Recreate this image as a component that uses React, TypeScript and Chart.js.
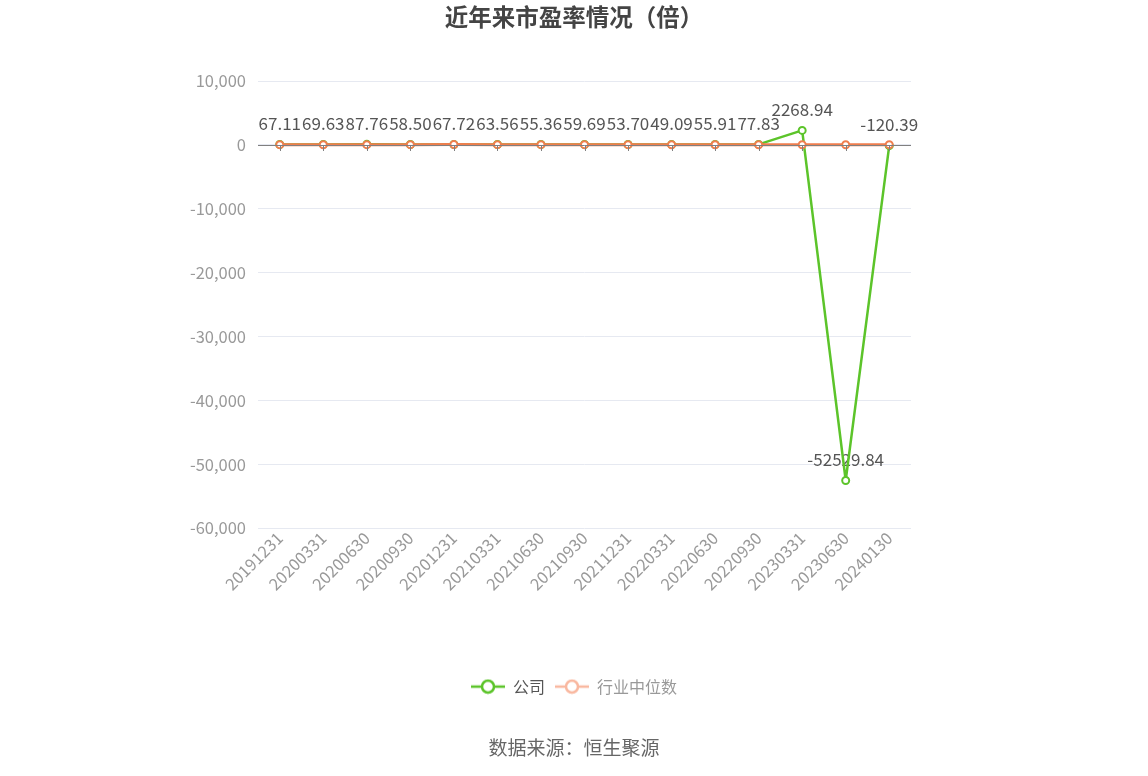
import { useEffect, useRef } from "react";
import { Chart, registerables } from "chart.js";

Chart.register(...registerables);

const periods = [
  "20191231", "20200331", "20200630", "20200930", "20201231",
  "20210331", "20210630", "20210930", "20211231", "20220331",
  "20220630", "20220930", "20230331", "20230630", "20240130",
];
const companyPE = [
  67.11, 69.63, 87.76, 58.5, 67.72, 63.56, 55.36, 59.69, 53.7, 49.09,
  55.91, 77.83, 2268.94, -52529.84, -120.39,
];
// industry median is not labelled in the picture: small values near the zero line
const industryPE = [
  32.5, 30.1, 35.6, 38.2, 41.0, 39.5, 36.8, 33.4, 34.1, 28.6,
  27.9, 26.3, 28.4, 27.5, 25.8,
];
const yTicks = [10000, 0, -10000, -20000, -30000, -40000, -50000, -60000];

const GREEN = "#5cc42a";
const ORANGE = "#f07e4e";
const FONT = "'Noto Sans CJK SC', 'Noto Sans', sans-serif";

function legendIcon(color: string) {
  const c = document.createElement("canvas");
  c.width = 34;
  c.height = 16;
  const ctx = c.getContext("2d")!;
  ctx.strokeStyle = color;
  ctx.lineWidth = 2.5;
  ctx.beginPath();
  ctx.moveTo(0, 8);
  ctx.lineTo(34, 8);
  ctx.stroke();
  ctx.beginPath();
  ctx.arc(17, 8, 6, 0, Math.PI * 2);
  ctx.fillStyle = "#fff";
  ctx.fill();
  ctx.stroke();
  return c;
}

const zeroAxis = {
  id: "zeroAxis",
  afterDatasetsDraw(chart: any) {
    const { ctx, chartArea, scales } = chart;
    const y = Math.round(scales.y.getPixelForValue(0));
    ctx.save();
    ctx.strokeStyle = "#808080";
    ctx.lineWidth = 1;
    ctx.beginPath();
    ctx.moveTo(chartArea.left, y + 0.5);
    ctx.lineTo(chartArea.right, y + 0.5);
    periods.forEach((_, i) => {
      const x = Math.round(scales.x.getPixelForValue(i)) + 0.5;
      ctx.moveTo(x, y);
      ctx.lineTo(x, y + 6);
    });
    ctx.stroke();
    ctx.restore();
  },
};

const valueLabels = {
  id: "valueLabels",
  beforeDatasetsDraw(chart: any) {
    const { ctx } = chart;
    const meta = chart.getDatasetMeta(0);
    ctx.save();
    ctx.font = `17px ${FONT}`;
    ctx.fillStyle = "#555";
    ctx.textAlign = "center";
    ctx.textBaseline = "middle";
    meta.data.forEach((pt: any, i: number) => {
      ctx.fillText(companyPE[i].toFixed(2), pt.x, pt.y - 21);
    });
    ctx.restore();
  },
};

export default function App() {
  const canvasRef = useRef<HTMLCanvasElement>(null);
  const chartRef = useRef<Chart | null>(null);

  useEffect(() => {
    document.body.style.margin = "0";
    if (!canvasRef.current) return;
    if (chartRef.current) chartRef.current.destroy();

    const icons = [legendIcon(GREEN), legendIcon("#f9b8a0")];
    const textColors = ["#555", "#999"];

    chartRef.current = new Chart(canvasRef.current, {
      type: "line",
      data: {
        labels: periods,
        datasets: [
          {
            label: "公司",
            data: companyPE,
            borderColor: GREEN,
            backgroundColor: "#fff",
            borderWidth: 2.5,
            borderJoinStyle: "round",
            pointRadius: 3.5,
            pointBorderWidth: 2,
            pointBackgroundColor: "#fff",
            pointBorderColor: GREEN,
            tension: 0,
            order: 2,
          },
          {
            label: "行业中位数",
            data: industryPE,
            borderColor: ORANGE,
            backgroundColor: "#fff",
            borderWidth: 3,
            borderJoinStyle: "round",
            pointRadius: 3.5,
            pointBorderWidth: 2,
            pointBackgroundColor: "#fff",
            pointBorderColor: ORANGE,
            tension: 0,
            order: 1,
          },
        ],
      },
      options: {
        animation: false,
        responsive: true,
        maintainAspectRatio: false,
        layout: { padding: 0 },
        plugins: {
          title: {
            display: true,
            text: "近年来市盈率情况（倍）",
            color: "#444",
            font: { family: FONT, size: 23.5, weight: "bold", lineHeight: 1.2 },
            padding: { top: 2.9, bottom: 49.9 },
          },
          subtitle: {
            display: true,
            position: "bottom",
            text: "数据来源：恒生聚源",
            color: "#666",
            font: { family: FONT, size: 19, lineHeight: 1.2 },
            padding: { top: 32, bottom: 16.6 },
          },
          legend: {
            position: "bottom",
            labels: {
              usePointStyle: true,
              pointStyleWidth: 34,
              padding: 10,
              font: { family: FONT, size: 16, lineHeight: 1.2 },
              generateLabels: (chart: any) =>
                chart.data.datasets.map((ds: any, i: number) => ({
                  text: ds.label,
                  pointStyle: icons[i],
                  fontColor: textColors[i],
                  fillStyle: "#fff",
                  strokeStyle: ds.borderColor,
                  lineWidth: 0,
                  hidden: false,
                  datasetIndex: i,
                })),
            },
          },
          tooltip: { enabled: false },
        },
        scales: {
          x: {
            offset: true,
            grid: { display: false, drawTicks: false },
            border: { display: false },
            ticks: {
              color: "#999",
              font: { family: FONT, size: 16.5 },
              minRotation: 45,
              maxRotation: 45,
              autoSkip: false,
              padding: 0,
            },
            afterFit: (s: any) => { s.height = 140.4; },
          },
          y: {
            min: -60000,
            max: 10000,
            afterBuildTicks: (s: any) => { s.ticks = yTicks.map(v => ({ value: v })); },
            grid: { color: "#e6e9f1", drawTicks: false, lineWidth: 1 },
            border: { display: false },
            ticks: {
              color: "#999",
              font: { family: FONT, size: 16.5 },
              padding: 12,
              callback: (v: any) => Number(v).toLocaleString("en-US"),
            },
            afterFit: (s: any) => { s.width = 258; },
          },
          // empty right-hand axis: keeps the plot where it is and the titles centred on the page
          yRight: {
            display: true,
            position: "right",
            min: -60000,
            max: 10000,
            grid: { display: false, drawTicks: false },
            border: { display: false },
            ticks: { display: false },
            afterFit: (s: any) => { s.width = 237; },
          },
        },
      },
      plugins: [zeroAxis, valueLabels],
    });
    return () => { chartRef.current?.destroy(); };
  }, []);

  return (
    <div style={{ width: "1148px", height: "776px", position: "relative" }}>
      <canvas ref={canvasRef} />
    </div>
  );
}
